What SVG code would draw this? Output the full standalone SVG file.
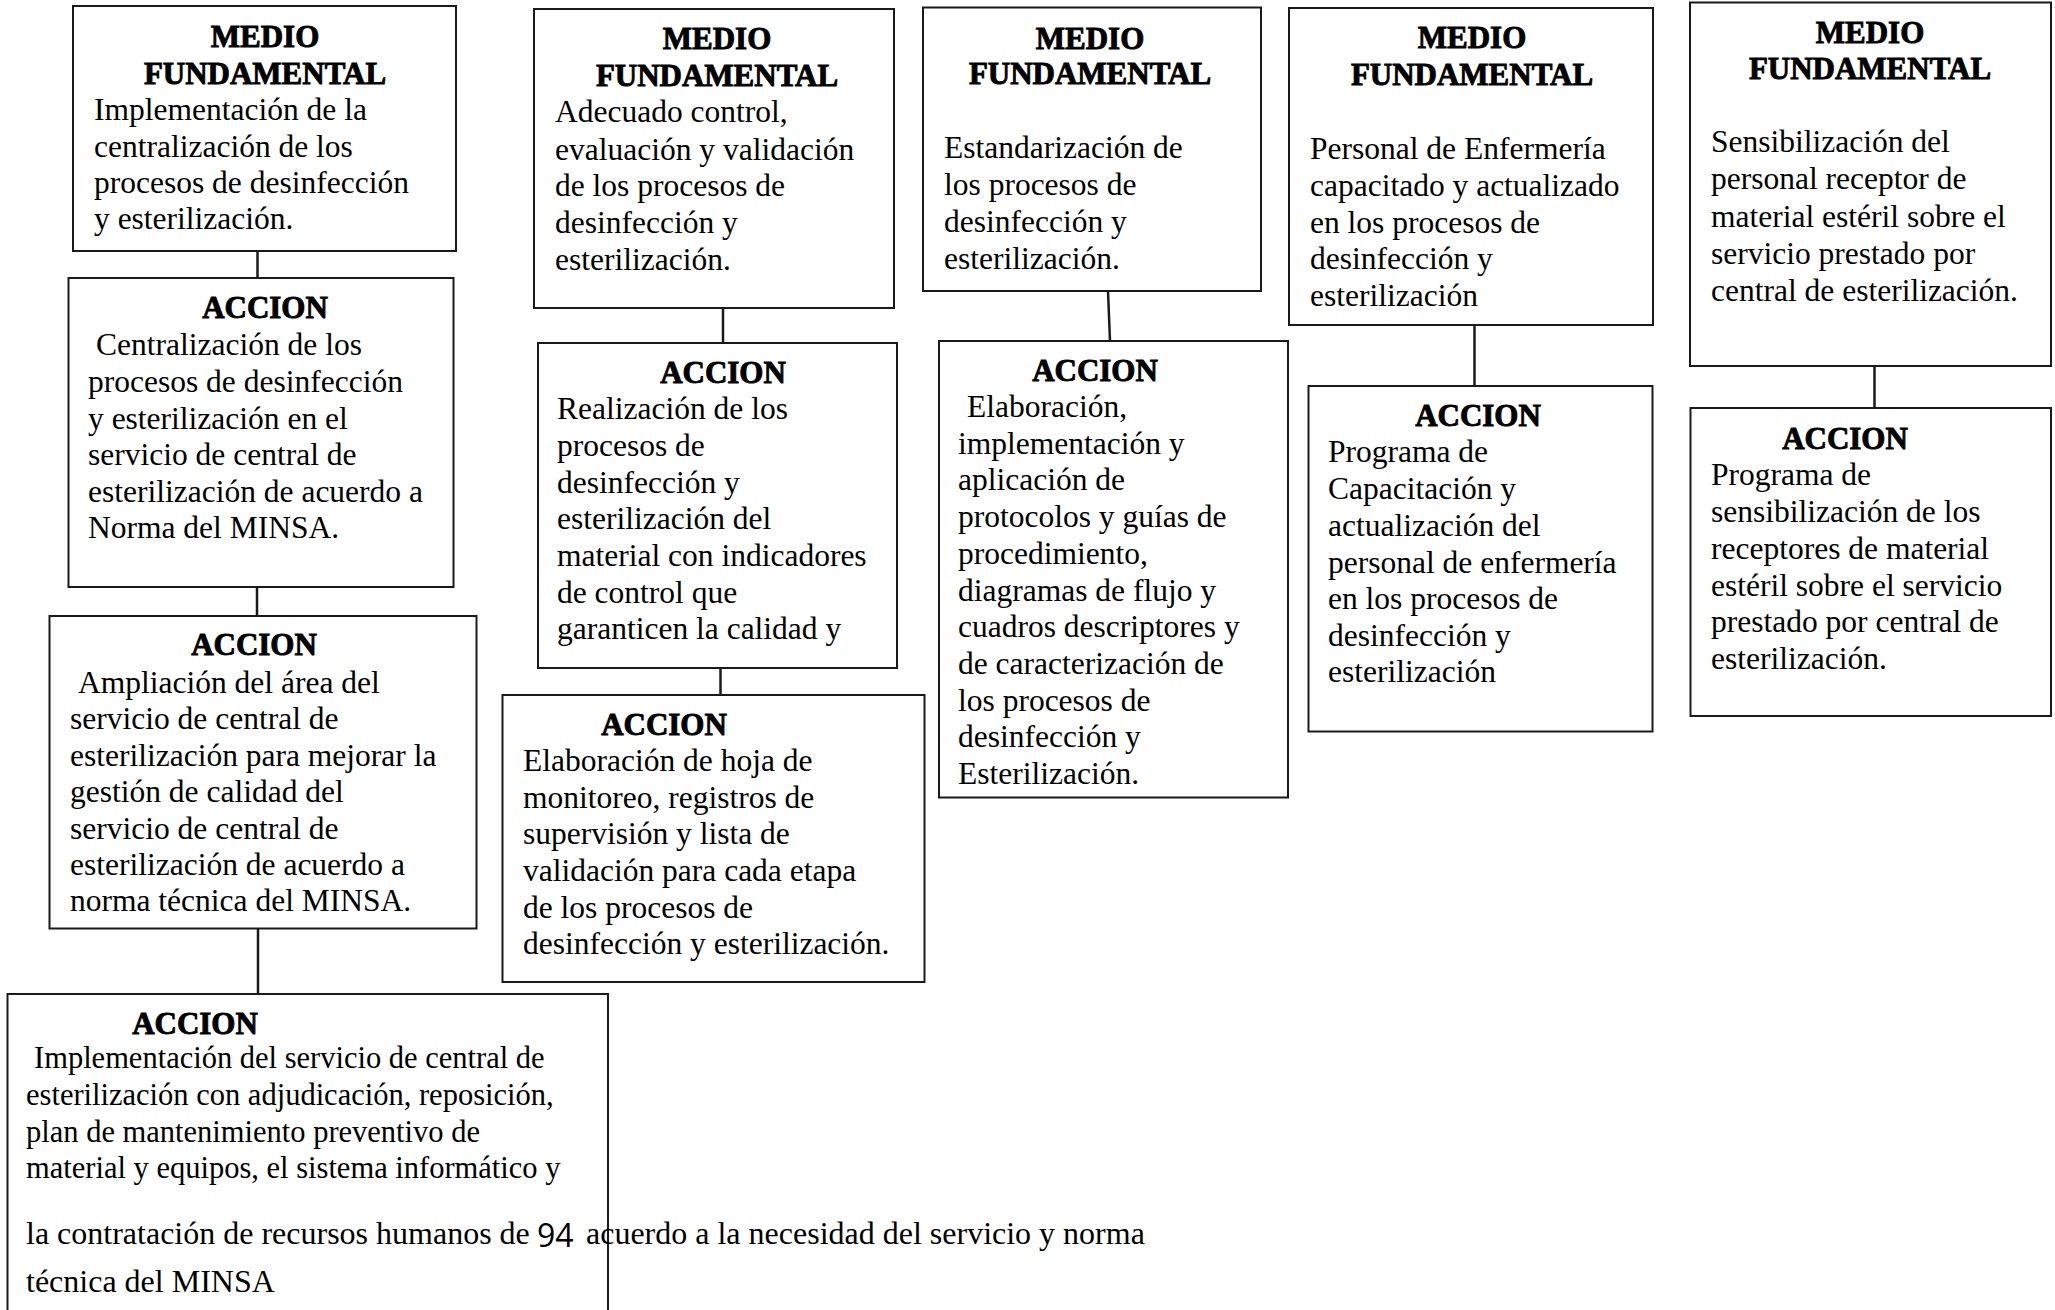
<svg xmlns="http://www.w3.org/2000/svg" width="2055" height="1310" viewBox="0 0 2055 1310">
<style>
.box{fill:#fff;stroke:#1a1a1a;stroke-width:2}
.con{stroke:#1a1a1a;stroke-width:2.5;fill:none}
.h{font-family:"Liberation Serif","Times New Roman",serif;font-weight:bold;font-size:31px;fill:#000;stroke:#000;stroke-width:0.9;text-anchor:middle}
.t{font-family:"Liberation Serif","Times New Roman",serif;font-size:31.5px;fill:#000}
.t3{font-family:"Liberation Serif","Times New Roman",serif;font-size:30.5px;fill:#000}
.t4{font-family:"Liberation Serif","Times New Roman",serif;font-size:32px;fill:#000}
.pg{font-family:"Open Sans","Liberation Sans",sans-serif;font-size:32px;fill:#000}
</style>
<rect width="2055" height="1310" fill="#fff"/>
<g id="connectors">
<line class="con" x1="257.5" y1="251" x2="257.5" y2="278"/>
<line class="con" x1="257" y1="587" x2="257" y2="616"/>
<line class="con" x1="258" y1="928" x2="258" y2="994"/>
<line class="con" x1="723" y1="308" x2="723" y2="343"/>
<line class="con" x1="720.5" y1="668" x2="720.5" y2="695"/>
<line class="con" x1="1108" y1="291" x2="1110" y2="341"/>
<line class="con" x1="1474.5" y1="325" x2="1474.5" y2="386"/>
<line class="con" x1="1874.5" y1="366" x2="1874.5" y2="408"/>
</g>
<g id="mf1">
<rect class="box" x="73" y="6" width="383" height="245"/>
<text class="h" x="265" y="47">MEDIO</text>
<text class="h" x="265" y="84">FUNDAMENTAL</text>
<text class="t" x="94" y="120">Implementación de la</text>
<text class="t" x="94" y="156.5">centralización de los</text>
<text class="t" x="94" y="192.5">procesos de desinfección</text>
<text class="t" x="94" y="229">y esterilización.</text>
</g>
<g id="a1">
<rect class="box" x="68.5" y="278" width="385" height="309"/>
<text class="h" x="265" y="318">ACCION</text>
<text class="t" x="96" y="355">Centralización de los</text>
<text class="t" x="88" y="392">procesos de desinfección</text>
<text class="t" x="88" y="428.5">y esterilización en el</text>
<text class="t" x="88" y="465">servicio de central de</text>
<text class="t" x="88" y="501.5">esterilización de acuerdo a</text>
<text class="t" x="88" y="537.5">Norma del MINSA.</text>
</g>
<g id="a2">
<rect class="box" x="49.5" y="616" width="427" height="312.5"/>
<text class="h" x="254" y="655">ACCION</text>
<text class="t" x="78" y="692.5">Ampliación del área del</text>
<text class="t" x="70" y="729">servicio de central de</text>
<text class="t" x="70" y="765.5">esterilización para mejorar la</text>
<text class="t" x="70" y="802">gestión de calidad del</text>
<text class="t" x="70" y="838.5">servicio de central de</text>
<text class="t" x="70" y="874.5">esterilización de acuerdo a</text>
<text class="t" x="70" y="911">norma técnica del MINSA.</text>
</g>
<g id="a3">
<rect class="box" x="7.5" y="994" width="600.5" height="330"/>
<text class="h" x="195" y="1034">ACCION</text>
<text class="t3" x="34" y="1068">Implementación del servicio de central de</text>
<text class="t3" x="26" y="1105">esterilización con adjudicación, reposición,</text>
<text class="t3" x="26" y="1141.5">plan de mantenimiento preventivo de</text>
<text class="t3" x="26" y="1178">material y equipos, el sistema informático y</text>
<text class="t4" x="26" y="1244">la contratación de recursos humanos de</text>
<text class="pg" x="537" y="1247">94</text>
<text class="t4" x="586" y="1244">acuerdo a la necesidad del servicio y norma</text>
<text class="t4" x="26" y="1292">técnica del MINSA</text>
</g>
<g id="mf2">
<rect class="box" x="534" y="9" width="360" height="299"/>
<text class="h" x="717" y="49">MEDIO</text>
<text class="h" x="717" y="86">FUNDAMENTAL</text>
<text class="t" x="555" y="122">Adecuado control,</text>
<text class="t" x="555" y="159.5">evaluación y validación</text>
<text class="t" x="555" y="196">de los procesos de</text>
<text class="t" x="555" y="233">desinfección y</text>
<text class="t" x="555" y="270">esterilización.</text>
</g>
<g id="a4">
<rect class="box" x="538" y="343" width="359" height="325"/>
<text class="h" x="723" y="383">ACCION</text>
<text class="t" x="557" y="419">Realización de los</text>
<text class="t" x="557" y="456">procesos de</text>
<text class="t" x="557" y="492.5">desinfección y</text>
<text class="t" x="557" y="529">esterilización del</text>
<text class="t" x="557" y="566">material con indicadores</text>
<text class="t" x="557" y="602.5">de control que</text>
<text class="t" x="557" y="639">garanticen la calidad y</text>
</g>
<g id="a5">
<rect class="box" x="502.5" y="695" width="422" height="287"/>
<text class="h" x="664" y="735">ACCION</text>
<text class="t" x="523" y="771">Elaboración de hoja de</text>
<text class="t" x="523" y="807.5">monitoreo, registros de</text>
<text class="t" x="523" y="844">supervisión y lista de</text>
<text class="t" x="523" y="881">validación para cada etapa</text>
<text class="t" x="523" y="917.5">de los procesos de</text>
<text class="t" x="523" y="954">desinfección y esterilización.</text>
</g>
<g id="mf3">
<rect class="box" x="923" y="7.5" width="338" height="283.5"/>
<text class="h" x="1090" y="49">MEDIO</text>
<text class="h" x="1090" y="83.5">FUNDAMENTAL</text>
<text class="t" x="944" y="158">Estandarización de</text>
<text class="t" x="944" y="195">los procesos de</text>
<text class="t" x="944" y="232">desinfección y</text>
<text class="t" x="944" y="269">esterilización.</text>
</g>
<g id="a6">
<rect class="box" x="939" y="341" width="349" height="456.5"/>
<text class="h" x="1095" y="381">ACCION</text>
<text class="t" x="967" y="417">Elaboración,</text>
<text class="t" x="958" y="453.7">implementación y</text>
<text class="t" x="958" y="490.4">aplicación de</text>
<text class="t" x="958" y="527.1">protocolos y guías de</text>
<text class="t" x="958" y="563.8">procedimiento,</text>
<text class="t" x="958" y="600.5">diagramas de flujo y</text>
<text class="t" x="958" y="637.2">cuadros descriptores y</text>
<text class="t" x="958" y="673.9">de caracterización de</text>
<text class="t" x="958" y="710.6">los procesos de</text>
<text class="t" x="958" y="747.3">desinfección y</text>
<text class="t" x="958" y="784">Esterilización.</text>
</g>
<g id="mf4">
<rect class="box" x="1289" y="8" width="364" height="317"/>
<text class="h" x="1472" y="48">MEDIO</text>
<text class="h" x="1472" y="85">FUNDAMENTAL</text>
<text class="t" x="1310" y="158.5">Personal de Enfermería</text>
<text class="t" x="1310" y="195.5">capacitado y actualizado</text>
<text class="t" x="1310" y="232.5">en los procesos de</text>
<text class="t" x="1310" y="269">desinfección y</text>
<text class="t" x="1310" y="305.5">esterilización</text>
</g>
<g id="a7">
<rect class="box" x="1308.5" y="386" width="344" height="345.5"/>
<text class="h" x="1478" y="426">ACCION</text>
<text class="t" x="1328" y="461.5">Programa de</text>
<text class="t" x="1328" y="498.5">Capacitación y</text>
<text class="t" x="1328" y="535.5">actualización del</text>
<text class="t" x="1328" y="572.5">personal de enfermería</text>
<text class="t" x="1328" y="609">en los procesos de</text>
<text class="t" x="1328" y="645.5">desinfección y</text>
<text class="t" x="1328" y="682">esterilización</text>
</g>
<g id="mf5">
<rect class="box" x="1690" y="2.5" width="361" height="363.5"/>
<text class="h" x="1870" y="42.5">MEDIO</text>
<text class="h" x="1870" y="79">FUNDAMENTAL</text>
<text class="t" x="1711" y="151.5">Sensibilización del</text>
<text class="t" x="1711" y="189">personal receptor de</text>
<text class="t" x="1711" y="226.5">material estéril sobre el</text>
<text class="t" x="1711" y="263.5">servicio prestado por</text>
<text class="t" x="1711" y="300.5">central de esterilización.</text>
</g>
<g id="a8">
<rect class="box" x="1690.5" y="408" width="360.5" height="308"/>
<text class="h" x="1845" y="448.5">ACCION</text>
<text class="t" x="1711" y="484.5">Programa de</text>
<text class="t" x="1711" y="521.5">sensibilización de los</text>
<text class="t" x="1711" y="558.5">receptores de material</text>
<text class="t" x="1711" y="595.5">estéril sobre el servicio</text>
<text class="t" x="1711" y="632">prestado por central de</text>
<text class="t" x="1711" y="669">esterilización.</text>
</g>
</svg>
